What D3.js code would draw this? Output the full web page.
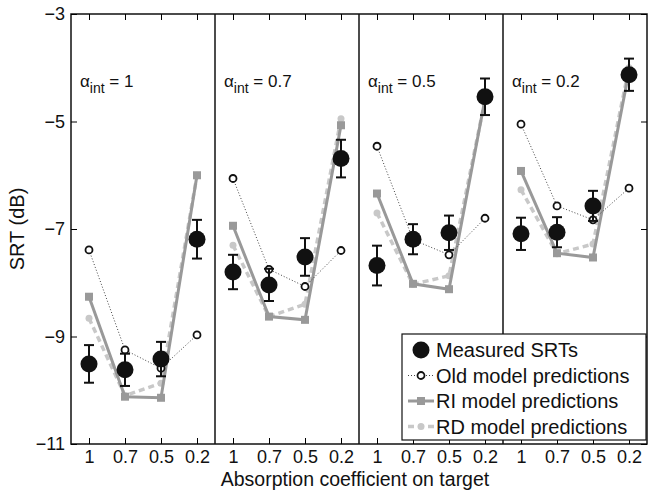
<!DOCTYPE html>
<html><head><meta charset="utf-8">
<script src="https://d3js.org/d3.v7.min.js"></script>
<style>body{margin:0;background:#fff}text{font-family:"Liberation Sans",Arial,sans-serif}</style>
</head><body><svg id="chart" width="649" height="491"></svg>
<script>
const targets = ["1", "0.7", "0.5", "0.2"];
const panelLabels = ["1", "0.7", "0.5", "0.2"];
const measured = [[-9.51, -9.62, -9.42, -7.19], [-7.8, -8.04, -7.52, -5.69], [-7.68, -7.19, -7.07, -4.54], [-7.09, -7.06, -6.57, -4.13]];
const measuredErr = [[0.35, 0.3, 0.32, 0.36], [0.32, 0.3, 0.35, 0.35], [0.37, 0.28, 0.32, 0.34], [0.3, 0.28, 0.28, 0.3]];
const oldModel = [[-7.39, -9.25, -9.59, -8.97], [-6.06, -7.75, -8.07, -7.4], [-5.46, -7.2, -7.48, -6.8], [-5.05, -6.57, -6.83, -6.24]];
const riModel = [[-8.26, -10.12, -10.14, -6.0], [-6.94, -8.63, -8.69, -5.07], [-6.34, -8.02, -8.12, -4.58], [-5.92, -7.45, -7.53, -4.07]];
const rdModel = [[-8.66, -10.1, -9.87, -6.0], [-7.3, -8.63, -8.4, -4.95], [-6.7, -8.03, -7.87, -4.6], [-6.27, -7.46, -7.28, -4.0]];
const yTicks = [-3, -5, -7, -9, -11];

const svg = d3.select("#chart");
const mLeft = 71, mRight = 647, mTop = 14, mBottom = 444;
const pw = (mRight - mLeft) / 4;
const y = d3.scaleLinear().domain([-11, -3]).range([mBottom, mTop]);
const panelX = d3.scaleBand().domain(d3.range(4)).range([mLeft, mRight]);
const x = d3.scalePoint().domain(targets).range([18, pw - 18]);
const line = d3.line().x((d, i) => x(targets[i])).y(d => y(d));

svg.append("rect").attr("x", mLeft).attr("y", mTop).attr("width", mRight - mLeft).attr("height", mBottom - mTop)
  .attr("fill", "none").attr("stroke", "#111").attr("stroke-width", 1.5);

// y axis left and right tick marks
svg.append("g").attr("transform", `translate(${mLeft},0)`)
  .call(d3.axisLeft(y).tickValues(yTicks).tickFormat(d => String(d).replace("-", "\u2212")).tickSize(-6).tickPadding(6))
  .call(g => g.select(".domain").remove())
  .call(g => g.selectAll("text").attr("font-size", 18).attr("fill", "#111"));
svg.append("g").attr("transform", `translate(${mRight},0)`)
  .call(d3.axisRight(y).tickValues(yTicks).tickSize(-6).tickFormat(""))
  .call(g => g.select(".domain").remove());

svg.append("text").attr("transform", `translate(24,${(mTop + mBottom) / 2}) rotate(-90)`)
  .attr("text-anchor", "middle").attr("font-size", 20).attr("fill", "#111").text("SRT (dB)");
svg.append("text").attr("x", 355).attr("y", 486).attr("text-anchor", "middle")
  .attr("font-size", 19.5).attr("fill", "#111").text("Absorption coefficient on target");

for (let p = 0; p < 4; p++) {
  const g = svg.append("g").attr("transform", `translate(${panelX(p)},0)`);
  if (p > 0) g.append("line").attr("x1", 0).attr("x2", 0).attr("y1", mTop).attr("y2", mBottom).attr("stroke", "#111").attr("stroke-width", 1.5);
  g.append("g").attr("transform", `translate(0,${mBottom})`)
    .call(d3.axisBottom(x).tickSize(-6).tickPadding(6))
    .call(a => a.select(".domain").remove())
    .call(a => a.selectAll("text").attr("font-size", 18).attr("fill", "#111"));
  g.append("g").attr("transform", `translate(0,${mTop})`)
    .call(d3.axisTop(x).tickSize(-6).tickFormat(""))
    .call(a => a.select(".domain").remove());

  const lab = g.append("text").attr("x", 9).attr("y", 87).attr("font-size", 17).attr("fill", "#111");
  lab.append("tspan").text("\u03b1");
  lab.append("tspan").attr("dy", 6).attr("font-size", 14).text("int");
  lab.append("tspan").attr("dy", -6).text(" = " + panelLabels[p]);

  // RD model
  g.append("path").attr("d", line(rdModel[p])).attr("fill", "none").attr("stroke", "#c8c8c8")
    .attr("stroke-width", 3.5).attr("stroke-dasharray", "6,4");
  g.selectAll(".rd").data(rdModel[p]).join("circle").attr("cx", (d, i) => x(targets[i])).attr("cy", d => y(d))
    .attr("r", 3.5).attr("fill", "#c8c8c8");
  // RI model
  g.append("path").attr("d", line(riModel[p])).attr("fill", "none").attr("stroke", "#999").attr("stroke-width", 3);
  g.selectAll(".ri").data(riModel[p]).join("rect").attr("x", (d, i) => x(targets[i]) - 4).attr("y", d => y(d) - 4)
    .attr("width", 8).attr("height", 8).attr("fill", "#999");
  // Old model
  g.append("path").attr("d", line(oldModel[p])).attr("fill", "none").attr("stroke", "#444")
    .attr("stroke-width", 1).attr("stroke-dasharray", "1,2");
  g.selectAll(".old").data(oldModel[p]).join("circle").attr("cx", (d, i) => x(targets[i])).attr("cy", d => y(d))
    .attr("r", 3.5).attr("fill", "#fff").attr("stroke", "#111").attr("stroke-width", 1.8);
  // measured
  measured[p].forEach((d, i) => {
    const cx = x(targets[i]), e = measuredErr[p][i];
    g.append("line").attr("x1", cx).attr("x2", cx).attr("y1", y(d - e)).attr("y2", y(d + e)).attr("stroke", "#111").attr("stroke-width", 2);
    [d - e, d + e].forEach(v => g.append("line").attr("x1", cx - 5).attr("x2", cx + 5).attr("y1", y(v)).attr("y2", y(v)).attr("stroke", "#111").attr("stroke-width", 2));
    g.append("circle").attr("cx", cx).attr("cy", y(d)).attr("r", 8.5).attr("fill", "#111");
  });
}

// legend
const lg = svg.append("g").attr("transform", "translate(402,334)");
lg.append("rect").attr("width", 244).attr("height", 106).attr("fill", "#fff").attr("stroke", "#111").attr("stroke-width", 1.2);
const items = ["Measured SRTs", "Old model predictions", "RI model predictions", "RD model predictions"];
items.forEach((t, i) => {
  const yy = 16 + i * 25.5;
  const r = lg.append("g").attr("transform", `translate(0,${yy})`);
  if (i === 0) r.append("circle").attr("cx", 19).attr("cy", 0).attr("r", 8.5).attr("fill", "#111");
  if (i === 1) {
    r.append("line").attr("x1", 6).attr("x2", 32).attr("stroke", "#444").attr("stroke-dasharray", "1,2");
    r.append("circle").attr("cx", 19).attr("r", 3.5).attr("fill", "#fff").attr("stroke", "#111").attr("stroke-width", 1.8);
  }
  if (i === 2) {
    r.append("line").attr("x1", 6).attr("x2", 32).attr("stroke", "#999").attr("stroke-width", 3);
    r.append("rect").attr("x", 15).attr("y", -4).attr("width", 8).attr("height", 8).attr("fill", "#999");
  }
  if (i === 3) {
    r.append("line").attr("x1", 6).attr("x2", 32).attr("stroke", "#c8c8c8").attr("stroke-width", 3.5).attr("stroke-dasharray", "6,4");
    r.append("circle").attr("cx", 19).attr("r", 3.5).attr("fill", "#c8c8c8");
  }
  r.append("text").attr("x", 34).attr("y", 7).attr("font-size", 20).attr("fill", "#111").text(t);
});
</script></body></html>
